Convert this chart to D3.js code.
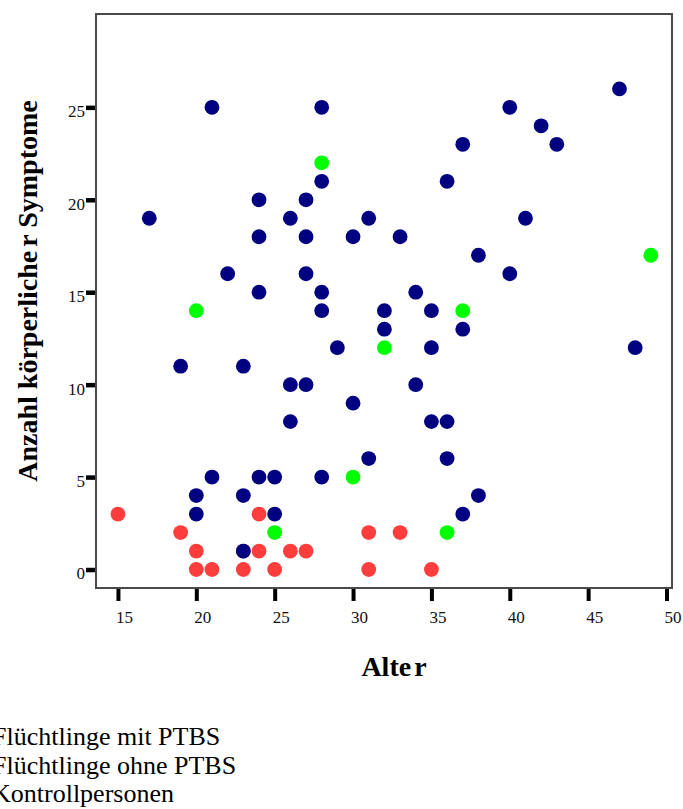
<!DOCTYPE html>
<html>
<head>
<meta charset="utf-8">
<title>Alter und körperliche Symptome</title>
<script src="https://cdn.jsdelivr.net/npm/d3@7"></script>
<style>
  body { margin: 0; background: #fff; }
  svg { display: block; }
</style>
</head>
<body>
<svg id="chart"></svg>
<script>
console.log("scatter chart loaded");

//group names and colours, same order as the legend
var groupNames = ["Flüchtlinge mit PTBS", "Flüchtlinge ohne PTBS", "Kontrollpersonen"];
var groupColors = ["#000080", "#00ff00", "#ff3d3d"];

//[alter, symptome] pairs for each group
var mitPTBS = [
  [21, 25], [28, 25], [40, 25], [47, 26], [42, 24], [37, 23], [43, 23],
  [28, 21], [36, 21], [24, 20], [27, 20], [17, 19], [26, 19], [31, 19],
  [41, 19], [24, 18], [27, 18], [30, 18], [33, 18], [38, 17], [22, 16],
  [27, 16], [40, 16], [24, 15], [28, 15], [34, 15], [28, 14], [32, 14],
  [35, 14], [32, 13], [37, 13], [29, 12], [35, 12], [48, 12], [19, 11],
  [23, 11], [26, 10], [27, 10], [34, 10], [30, 9], [26, 8], [35, 8],
  [36, 8], [31, 6], [36, 6], [21, 5], [24, 5], [25, 5], [28, 5],
  [20, 4], [23, 4], [38, 4], [20, 3], [25, 3], [37, 3], [23, 1]
];
var ohnePTBS = [
  [28, 22], [49, 17], [20, 14], [37, 14], [32, 12], [30, 5], [25, 2], [36, 2]
];
var kontroll = [
  [15, 3], [24, 3], [19, 2], [31, 2], [33, 2], [20, 1], [23, 1], [24, 1],
  [26, 1], [27, 1], [20, 0], [21, 0], [23, 0], [25, 0], [31, 0], [35, 0]
];

//tick values for both axes
var xTicks = [15, 20, 25, 30, 35, 40, 45, 50];
var yTicks = [0, 5, 10, 15, 20, 25];

var width = 683;
var height = 809;
var margin = {left: 96, top: 14, right: 11, bottom: 221};
var plotW = width - margin.left - margin.right;
var plotH = height - margin.top - margin.bottom;

var svg = d3.select("#chart")
  .attr("width", width)
  .attr("height", height);

//the frame edges sit a bit outside the first and last tick
var x = d3.scaleLinear().domain([13.6, 50.35]).range([0, plotW]);
var y = d3.scaleLinear().domain([-1, 30.05]).range([plotH, 0]);

var plot = svg.append("g")
  .attr("transform", "translate(" + margin.left + "," + margin.top + ")");

//x axis, thick ticks hanging under the frame
var xAxis = plot.append("g")
  .attr("transform", "translate(0," + plotH + ")")
  .call(d3.axisBottom(x).tickValues(xTicks).tickSize(13).tickPadding(10).tickSizeOuter(0));
xAxis.select(".domain").remove();
xAxis.selectAll(".tick line").attr("stroke", "#000").attr("stroke-width", 4);
xAxis.selectAll(".tick text")
  .attr("dx", 6)
  .style("font-family", "'Liberation Serif', 'Times New Roman', serif")
  .style("font-size", "17px")
  .attr("fill", "#111");

//y axis, ticks on the left of the frame
var yAxis = plot.append("g")
  .call(d3.axisLeft(y).tickValues(yTicks).tickSize(10).tickPadding(1).tickSizeOuter(0));
yAxis.select(".domain").remove();
yAxis.selectAll(".tick line").attr("stroke", "#000").attr("stroke-width", 4.5);
yAxis.selectAll(".tick text")
  .attr("dy", "0.55em")
  .style("font-family", "'Liberation Serif', 'Times New Roman', serif")
  .style("font-size", "17px")
  .attr("fill", "#111");

//frame around the plot
plot.append("rect")
  .attr("x", 0)
  .attr("y", 0)
  .attr("width", plotW)
  .attr("height", plotH)
  .attr("fill", "none")
  .attr("stroke", "#4a4a4a")
  .attr("stroke-width", 2);

//draw the control group first so the patients sit on top of it
var drawOrder = [
  {data: kontroll, color: groupColors[2]},
  {data: mitPTBS, color: groupColors[0]},
  {data: ohnePTBS, color: groupColors[1]}
];

drawOrder.forEach(function (group) {
  plot.append("g")
    .selectAll("circle")
    .data(group.data)
    .join("circle")
    .attr("cx", function (d) { return x(d[0]); })
    .attr("cy", function (d) { return y(d[1]); })
    .attr("r", 7.4)
    .attr("fill", group.color);
});

//axis titles, bold serif
var titleFont = "'Liberation Serif', 'Times New Roman', serif";

var xTitle = svg.append("text")
  .attr("x", 394)
  .attr("y", 676)
  .attr("text-anchor", "middle")
  .style("font-family", titleFont)
  .style("font-size", "28px")
  .style("font-weight", "bold")
  .attr("fill", "#000");
xTitle.append("tspan").text("Alte");
xTitle.append("tspan").attr("dx", 3).text("r");

var yTitle = svg.append("text")
  .attr("transform", "translate(37,291) rotate(-90)")
  .attr("text-anchor", "middle")
  .style("font-family", titleFont)
  .style("font-size", "28px")
  .style("font-weight", "bold")
  .attr("fill", "#000");
yTitle.append("tspan").text("Anzahl körperliche");
yTitle.append("tspan").attr("dx", 4).text("r Symptome");

//legend, its markers fall off the left edge like in the picture
var legend = svg.append("g")
  .attr("transform", "translate(0,745)");

groupNames.forEach(function (name, i) {
  legend.append("circle")
    .attr("cx", -25)
    .attr("cy", i * 28.5 - 8)
    .attr("r", 7.4)
    .attr("fill", groupColors[i]);

  legend.append("text")
    .attr("x", -8)
    .attr("y", i * 28.5)
    .style("font-family", titleFont)
    .style("font-size", "26px")
    .attr("fill", "#000")
    .text(name);
});
</script>
</body>
</html>
